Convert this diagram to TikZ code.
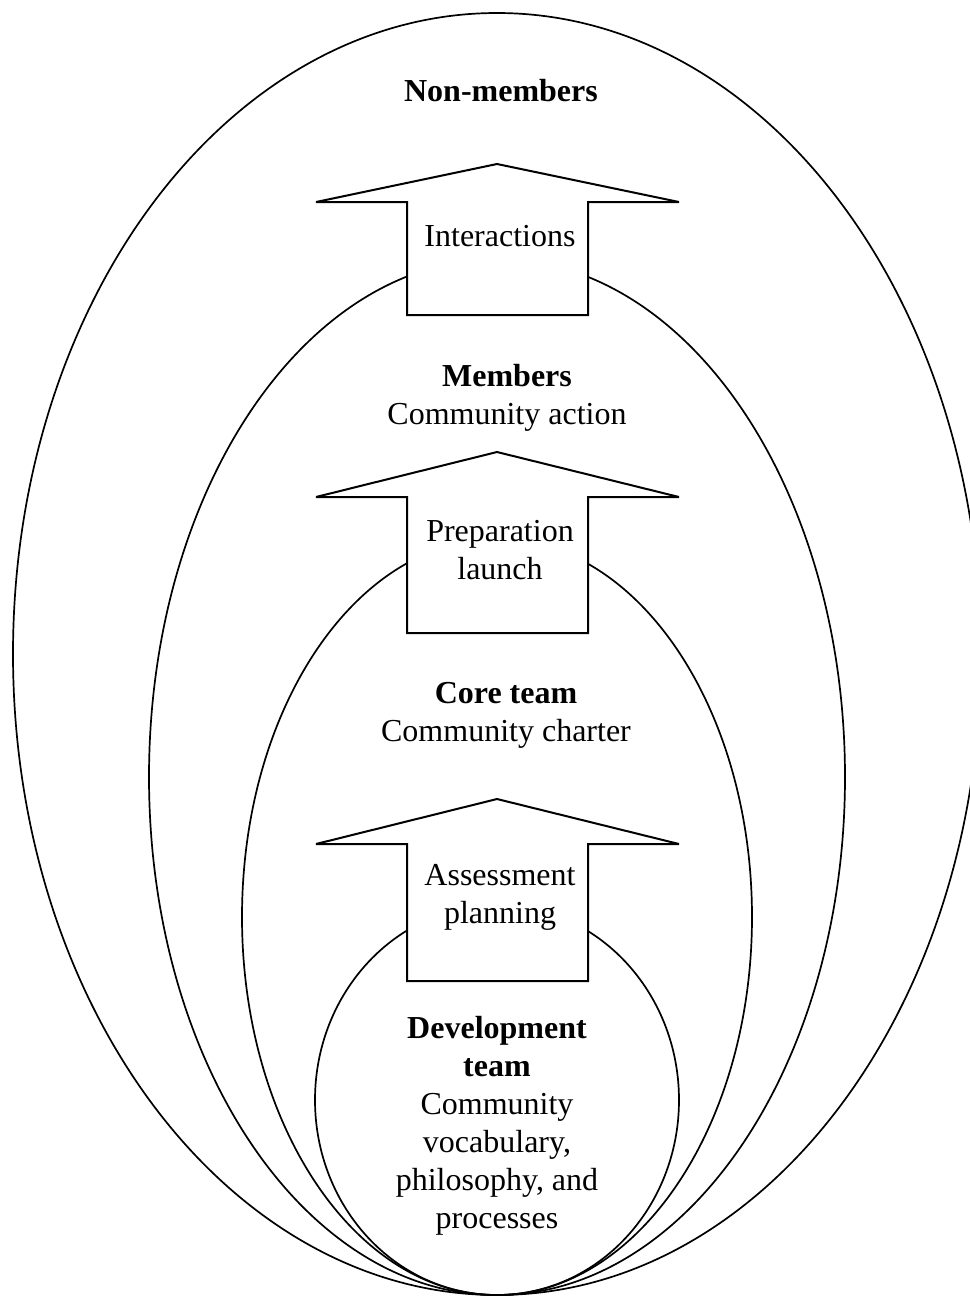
\documentclass[tikz,border=0pt]{standalone}
\usepackage{fontspec}
\setmainfont{Liberation Serif}
\begin{document}
\begin{tikzpicture}[x=0.5pt,y=-0.5pt,
  ring/.style={draw=black,line width=0.85pt},
  uparrow/.style={draw=black,fill=white,line width=1pt,line join=miter,miter limit=2},
  txt/.style={font=\fontsize{16}{19}\selectfont,align=center,inner sep=0pt}]
\path[use as bounding box] (0,0) rectangle (970,1297);
\clip (0,0) rectangle (970,1297);
% nested rings
\draw[ring] (497,654) ellipse [x radius=242pt, y radius=320.5pt];
\draw[ring] (497,777) ellipse [x radius=174pt, y radius=259pt];
\draw[ring] (497,917) ellipse [x radius=127.5pt, y radius=189pt];
\draw[ring] (497,1100) ellipse [x radius=91pt, y radius=97.5pt];
% block arrows
\draw[uparrow] (316,202) -- (497,164) -- (679,202) -- (588,202) -- (588,315) -- (407,315) -- (407,202) -- cycle;
\draw[uparrow] (316,497) -- (497,452) -- (679,497) -- (588,497) -- (588,633) -- (407,633) -- (407,497) -- cycle;
\draw[uparrow] (316,844) -- (497,799) -- (679,844) -- (588,844) -- (588,981) -- (407,981) -- (407,844) -- cycle;
% texts
\node[txt] (nonmem) at (501,91) {\textbf{Non-members}};
\node[txt] (inter) at (500,236) {Interactions};
\node[txt] (mem) at (507,398) {\textbf{Members}\\Community action};
\node[txt] (prep) at (500,550) {Preparation\\launch};
\node[txt] (core) at (506,715) {\textbf{Core team}\\Community charter};
\node[txt] (assess) at (500,897) {Assessment\\planning};
\node[txt] (dev) at (497,1126) {\textbf{Development}\\\textbf{team}\\Community\\vocabulary,\\philosophy, and\\processes};
\end{tikzpicture}
\end{document}
